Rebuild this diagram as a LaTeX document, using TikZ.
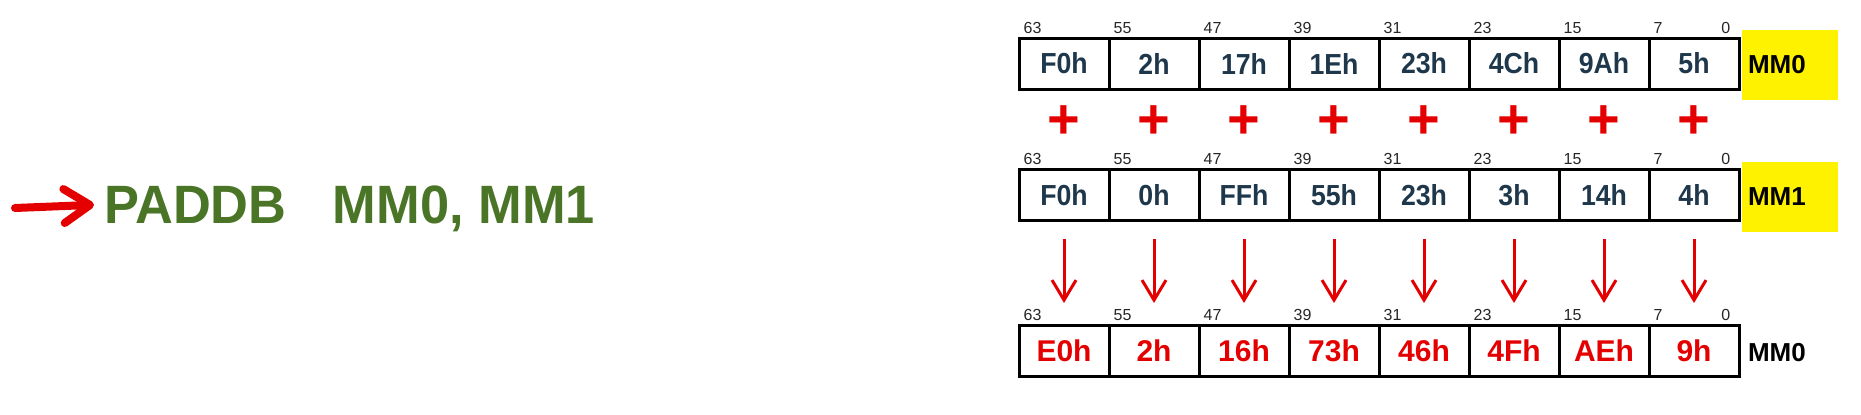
\documentclass[tikz,border=0pt]{standalone}
\usepackage{fontspec}
\usetikzlibrary{positioning,arrows.meta}
\newfontfamily\arialfont{Liberation Sans}
\newfontfamily\narrowfont[FakeStretch=0.97]{Liberation Sans}
\newfontfamily\cellfont[FakeStretch=0.92]{Liberation Sans}
\definecolor{opgreen}{RGB}{74,117,38}
\definecolor{cellink}{RGB}{30,55,75}
\definecolor{sumred}{RGB}{228,0,0}
\tikzstyle{opcode} = [inner sep=0,text=opgreen,font=\narrowfont\bfseries\fontsize{54}{54}\selectfont]
\tikzstyle{scribble} = [line width=8pt,line cap=round,draw=sumred,-{Straight Barb[round,length=26pt,width=34pt]}]
\tikzstyle{cell} = [draw,line width=3pt,rectangle,inner sep=0,minimum width=90pt,minimum height=51pt,text=cellink,font=\cellfont\bfseries\fontsize{29}{29}\selectfont]
\tikzstyle{result} = [cell,text=sumred,font=\arialfont\bfseries\fontsize{30}{30}\selectfont]
\tikzstyle{bit} = [inner sep=0,text=black!85,font=\arialfont\fontsize{16}{16}\selectfont]
\tikzstyle{reg} = [inner sep=0,text width=84pt,align=left,font=\arialfont\bfseries\fontsize{26}{26}\selectfont]
\tikzstyle{regbox} = [reg,fill=yellow,minimum width=96pt,minimum height=70pt]
\tikzstyle{sign} = [inner sep=0,text=sumred,font=\arialfont\bfseries\fontsize{56}{56}\selectfont]
\tikzstyle{flow} = [line width=3pt,draw=sumred,-{Straight Barb[length=20pt,width=24pt]}]
\def \cw {90}

\begin{document}
\begin{tikzpicture}[x=1pt,y=-1pt]
  \useasboundingbox (0,0) rectangle (1861,415);
  \node[opcode,anchor=base west] (op) at (104,223) {PADDB};
  \node[opcode,base right=46pt of op] (args) {MM0, MM1};
  \coordinate (tail) at (15,208);
  \draw[scribble,shorten >=10pt] (tail) -- (op.west);

  \foreach \v [count=\i] in {F0h,2h,17h,1Eh,23h,4Ch,9Ah,5h}
    \node[cell] (a\i) at ({1064+\cw*(\i-1)},63.5) {\v};
  \foreach \v [count=\i] in {F0h,0h,FFh,55h,23h,3h,14h,4h}
    \node[cell] (b\i) at ({1064+\cw*(\i-1)},195) {\v};
  \foreach \v [count=\i] in {E0h,2h,16h,73h,46h,4Fh,AEh,9h}
    \node[result] (c\i) at ({1064+\cw*(\i-1)},351) {\v};

  \foreach \r in {a,b,c} {
    \foreach \b [count=\i] in {63,55,47,39,31,23,15,7}
      \node[bit,anchor=south west] (\r bit\i) at ([xshift=6pt,yshift=3pt]\r\i.north west) {\b};
    \node[bit,anchor=south east] (\r bit0) at ([xshift=-10pt,yshift=3pt]\r8.north east) {0};
  }

  \node[regbox] (mm0) at (1790,65) {MM0};
  \node[regbox] (mm1) at (1790,197) {MM1};
  \node[reg] (dst) at (1790,353) {MM0};

  \foreach \i in {1,...,8} {
    \path (a\i.center) ++(0,58.5) node[sign] (s\i) {+};
    \draw[flow,shorten <=17pt,shorten >=21pt] (b\i) -- (c\i);
  }
\end{tikzpicture}
\end{document}
